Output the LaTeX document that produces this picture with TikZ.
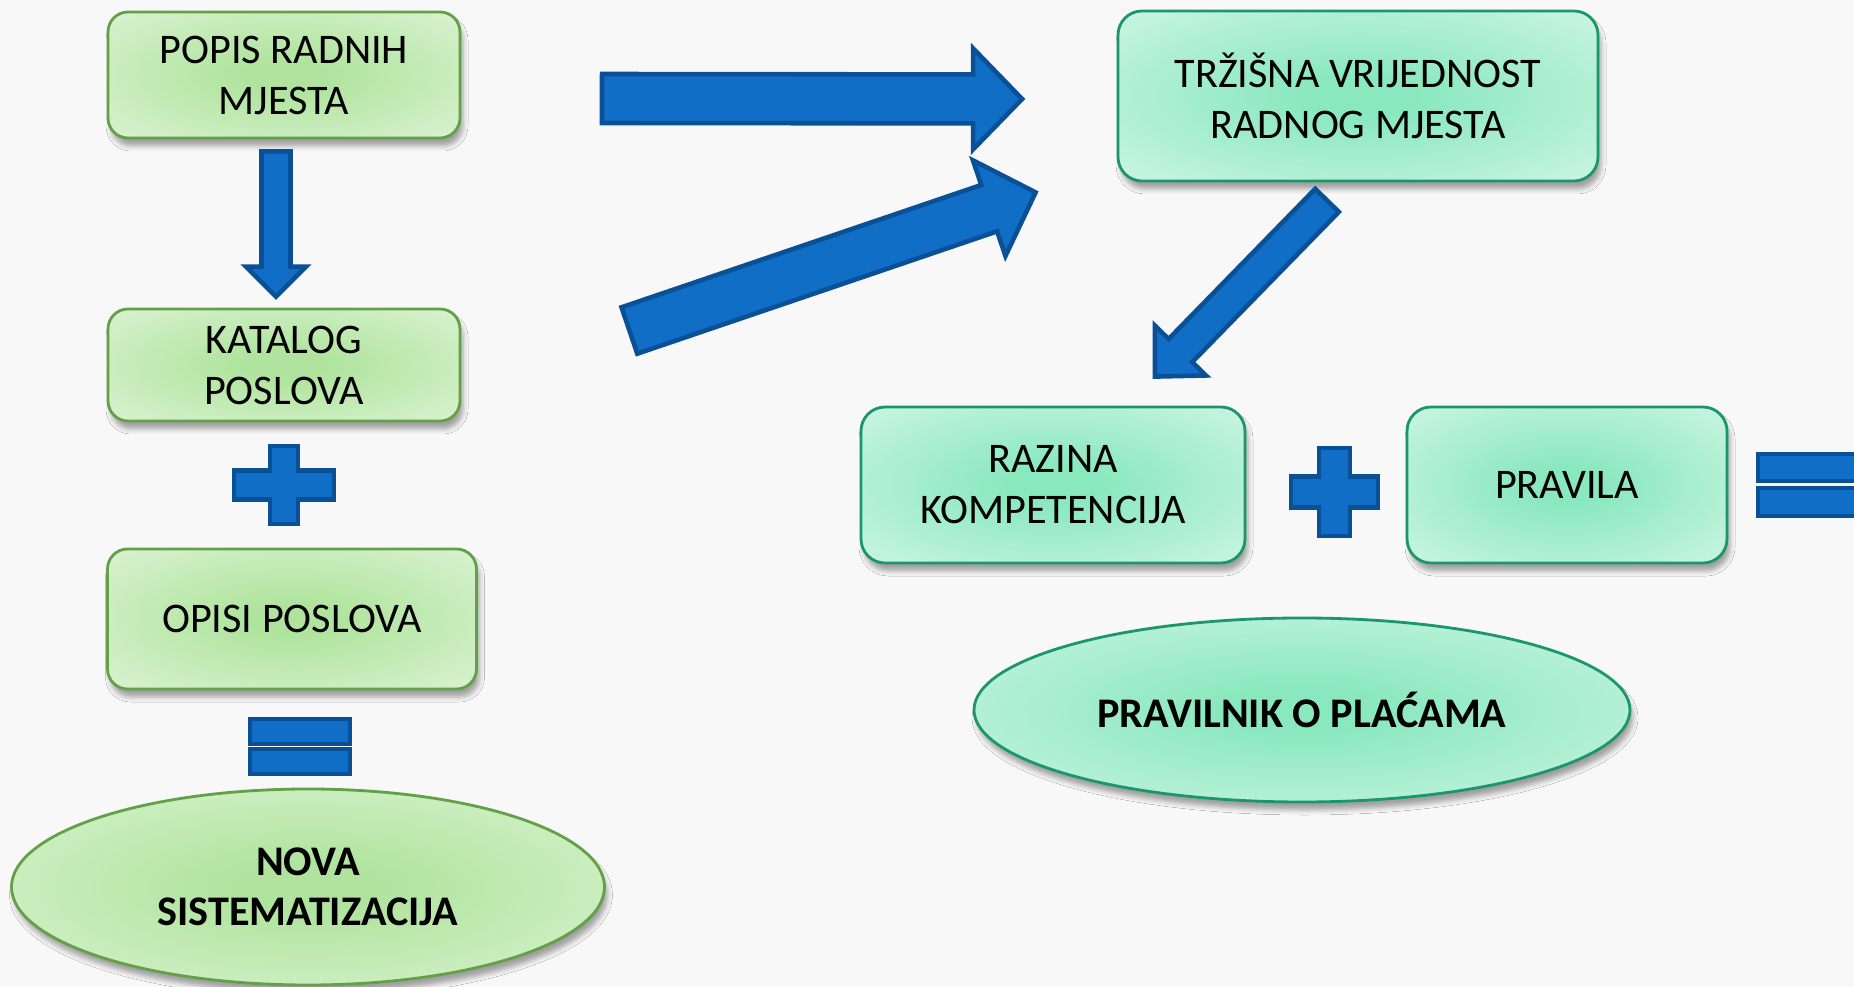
\documentclass[tikz,border=0pt]{standalone}
\usepackage{fontspec}
\setmainfont{Carlito}
\usepackage{tikz}
\usetikzlibrary{calc,shapes.geometric,shadows.blur}
\definecolor{bgc}{RGB}{248,248,248}
\definecolor{grnin}{RGB}{176,228,158}
\definecolor{grnout}{RGB}{238,249,234}
\definecolor{grnline}{RGB}{100,160,72}
\definecolor{tealin}{RGB}{138,232,190}
\definecolor{tealout}{RGB}{234,251,244}
\definecolor{tealline}{RGB}{28,150,108}
\definecolor{arrfill}{RGB}{16,110,198}
\definecolor{arrline}{RGB}{10,80,150}
\pgfdeclareradialshading{greenglow}{\pgfpoint{0bp}{0bp}}{color(0bp)=(grnin); color(6bp)=(grnin); color(50bp)=(grnout); color(75bp)=(grnout)}
\pgfdeclareradialshading{tealglow}{\pgfpoint{0bp}{0bp}}{color(0bp)=(tealin); color(6bp)=(tealin); color(50bp)=(tealout); color(75bp)=(tealout)}

\tikzset{
  soft/.style={blur shadow={shadow xshift=0.3mm, shadow yshift=-0.8mm, shadow blur radius=0.5mm, shadow opacity=35}},
  gbox/.style={rectangle, rounded corners=2mm, draw=grnline, line width=0.8pt, shading=greenglow, inner sep=0pt, align=center, font=\fontsize{12}{14.5}\selectfont, soft},
  tbox/.style={gbox, draw=tealline, shading=tealglow, rounded corners=2.4mm},
  goval/.style={gbox, ellipse, font=\bfseries\fontsize{12}{14.2}\selectfont},
  toval/.style={tbox, ellipse, font=\bfseries\fontsize{12}{14.2}\selectfont},
  barrow/.style={fill=arrfill, draw=arrline, line width=1.3pt, line join=miter},
}
% block arrow: from, to, half shaft, half head, head length
\newcommand{\blockarrow}[5]{%
  \coordinate (ba-h) at ($(#2)!#5!(#1)$);
  \draw[barrow] ($(#1)!#3!90:(#2)$) -- ($(ba-h)!#3!90:(#2)$) -- ($(ba-h)!#4!90:(#2)$) -- (#2)
    -- ($(ba-h)!#4!-90:(#2)$) -- ($(ba-h)!#3!-90:(#2)$) -- ($(#1)!#3!-90:(#2)$) -- cycle;}
% plus sign: half width, half height, half arm thickness (x), (y)
\newcommand{\plusmark}[5]{%
  \draw[barrow,shift={(#1)}] (-#4,-#3) -- (#4,-#3) -- (#4,-#5) -- (#2,-#5) -- (#2,#5) -- (#4,#5)
    -- (#4,#3) -- (-#4,#3) -- (-#4,#5) -- (-#2,#5) -- (-#2,-#5) -- (-#4,-#5) -- cycle;}

\begin{document}
\begin{tikzpicture}[x=0.1mm, y=-0.1mm]
  \useasboundingbox (0,0) rectangle (1854,987);
  \clip (0,0) rectangle (1854,987);
  \fill[bgc] (0,0) rectangle (1854,987);

  % left column
  \node[gbox, minimum width=35.2mm, minimum height=12.6mm] (popis) at (284,75) {POPIS RADNIH\\MJESTA};
  \node[gbox, minimum width=35.2mm, minimum height=11.2mm] (katalog) at (284,365) {KATALOG\\POSLOVA};
  \node[gbox, minimum width=36.9mm, minimum height=14.0mm] (opisi) at (292,619) {OPISI POSLOVA};
  \node[goval, minimum width=59.3mm, minimum height=19.6mm] (nova) at (308,887) {NOVA\\SISTEMATIZACIJA};

  % right part
  \node[tbox, minimum width=48.0mm, minimum height=17.0mm] (trzisna) at (1358,96) {TRŽIŠNA VRIJEDNOST\\RADNOG MJESTA};
  \node[tbox, minimum width=38.4mm, minimum height=15.6mm] (razina) at (1053,485) {RAZINA\\KOMPETENCIJA};
  \node[tbox, minimum width=32.0mm, minimum height=15.6mm] (pravila) at (1567,485) {PRAVILA};
  \node[toval, minimum width=65.6mm, minimum height=18.4mm] (pravilnik) at (1302,710) {PRAVILNIK O PLAĆAMA};

  % arrows
  \coordinate (d1) at ($(popis.south)+(-8,12)$);
  \coordinate (d2) at ($(katalog.north)+(-8,-11)$);
  \blockarrow{d1}{d2}{1.45mm}{3.0mm}{3.0mm}
  \coordinate (h1) at (602,98.5);
  \coordinate (h2) at ($(trzisna.west)+(-94.5,3)$);
  \blockarrow{h1}{h2}{2.45mm}{5.05mm}{4.9mm}
  \coordinate (s1) at ($(katalog.east)+(168,-34.5)$);
  \coordinate (s2) at ($(trzisna.south west)+(-81,10)$);
  \blockarrow{s1}{s2}{2.45mm}{5.05mm}{4.9mm}
  \coordinate (r1) at ($(trzisna.south)+(-31,18)$);
  \coordinate (r2) at ($(razina.north)+(102,-29)$);
  \blockarrow{r1}{r2}{1.65mm}{3.57mm}{3.64mm}

  % plus and equals signs
  \plusmark{284,485}{50}{39}{14}{14.5}
  \plusmark{1334.5,492}{43.5}{44}{15.5}{15.5}
  \draw[barrow] (250,719) rectangle (350,744);
  \draw[barrow] (250,749) rectangle (350,774);
  \draw[barrow] (1758,454) rectangle (1870,481);
  \draw[barrow] (1758,488) rectangle (1870,516);
\end{tikzpicture}
\end{document}
